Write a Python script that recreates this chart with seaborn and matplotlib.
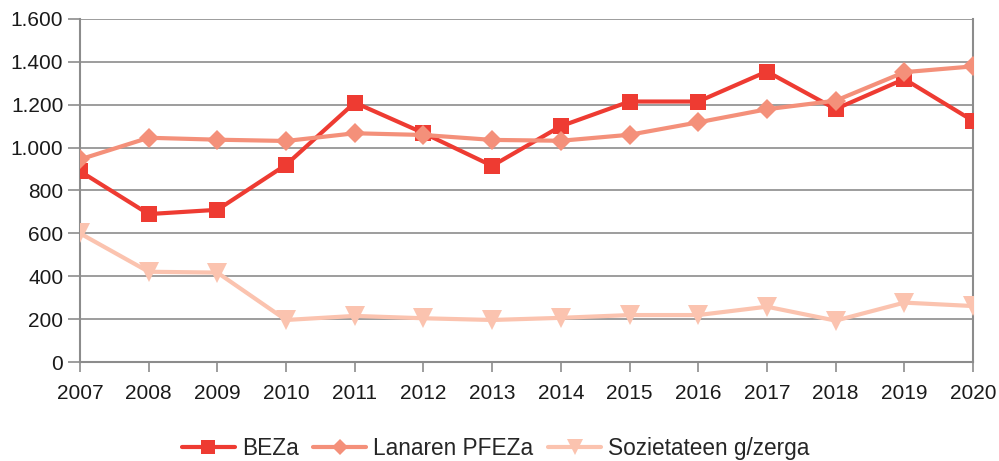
import matplotlib
matplotlib.use("Agg")
import matplotlib.pyplot as plt
import matplotlib.ticker as mticker
import seaborn as sns
import pandas as pd

years = list(range(2007, 2021))
beza = [890, 690, 710, 920, 1210, 1068, 915, 1100, 1215, 1215, 1355, 1180, 1320, 1125]
lanaren = [945, 1046, 1037, 1031, 1067, 1059, 1036, 1032, 1060, 1118, 1179, 1219, 1352, 1379]
sozietateen = [600, 421, 417, 196, 215, 204, 196, 206, 219, 219, 258, 193, 277, 261]
series_names = ["BEZa", "Lanaren PFEZa", "Sozietateen g/zerga"]
colors = ["#EE3B32", "#F4907A", "#FBC3AF"]
markers = ["s", "D", "v"]
msizes = [12, 10, 14]
yticks = [0, 200, 400, 600, 800, 1000, 1200, 1400, 1600]

sns.set_theme(style="white")
plt.rcParams["font.family"] = ["Liberation Sans", "DejaVu Sans"]

df = pd.DataFrame({
    "year": years * 3,
    "value": beza + lanaren + sozietateen,
    "series": [series_names[0]] * len(years) + [series_names[1]] * len(years) + [series_names[2]] * len(years),
})

fig = plt.figure(figsize=(9.99, 4.61), dpi=100)
ax = fig.add_axes([80 / 999, 1 - 362 / 461, (973 - 80) / 999, (362 - 19) / 461])

for name, col, mk, ms in zip(series_names, colors, markers, msizes):
    sub = df[df["series"] == name]
    sns.lineplot(data=sub, x="year", y="value", ax=ax, color=col, linewidth=3.0,
                 marker=mk, markersize=ms, markeredgewidth=0, label=name, zorder=3)

ax.set_xlim(2007, 2020)
ax.set_ylim(0, 1600)
ax.set_xticks(years)
ax.set_yticks(yticks)
ax.yaxis.set_major_formatter(mticker.FuncFormatter(lambda v, p: f"{int(v):,}".replace(",", ".")))
ax.grid(axis="y", color="#8c8c8c", linewidth=1.2, zorder=0)
ax.set_axisbelow(True)
for s in ["left", "right", "bottom", "top"]:
    ax.spines[s].set_color("#8c8c8c")
    ax.spines[s].set_linewidth(1.5)
ax.spines["top"].set_visible(False)
ax.tick_params(axis="y", length=8.5, width=1.2, color="#8c8c8c", labelsize=15, labelcolor="#1a1a1a", pad=3.5, left=True)
ax.tick_params(axis="x", length=7, width=1.2, color="#8c8c8c", labelsize=15, labelcolor="#1a1a1a", pad=9, bottom=True)
ax.set_xlabel("")
ax.set_ylabel("")

handles, labels = ax.get_legend_handles_labels()
ax.get_legend().remove()
fig.legend(handles, labels, loc="center", bbox_to_anchor=(0.496, 13 / 461), ncol=3, frameon=False,
           fontsize=16.3, handlelength=2.35, handletextpad=0.3, columnspacing=0.65, markerscale=0.8,
           borderaxespad=0, borderpad=0)

fig.savefig("out.png", dpi=100)
